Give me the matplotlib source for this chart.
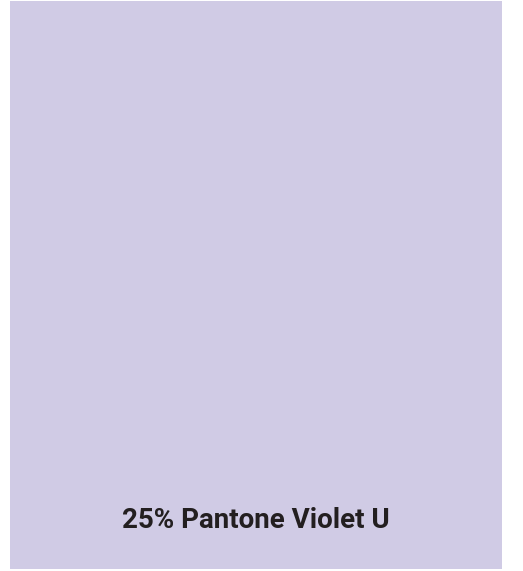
import matplotlib
matplotlib.use("Agg")
import matplotlib.pyplot as plt
from matplotlib.patches import Rectangle

labels = ["25% Pantone Violet U"]
colors = ["#d0cbe5"]

fig = plt.figure(figsize=(5.23, 5.71), dpi=100)
ax = fig.add_axes([0, 0, 1, 1])
ax.set_xlim(0, 523)
ax.set_ylim(571, 0)
ax.axis("off")

ax.add_patch(Rectangle((10, 1), 492, 568, facecolor=colors[0], edgecolor="none"))
ax.text(256, 521, labels[0], ha="center", va="center", fontsize=20,
        fontweight="bold", color="#231f20",
        family=["Roboto", "DejaVu Sans"])

fig.savefig("out.png", dpi=100)
